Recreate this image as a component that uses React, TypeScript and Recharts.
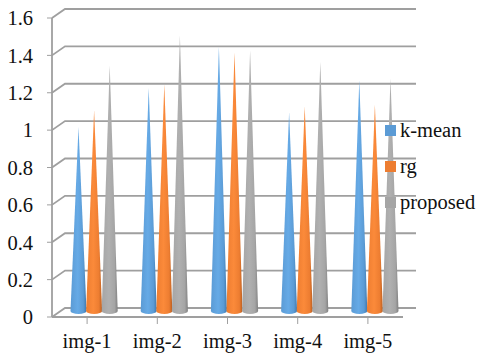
import React from 'react';
import { BarChart, Bar, XAxis, YAxis, CartesianGrid, Legend } from 'recharts';

const categories = ['img-1', 'img-2', 'img-3', 'img-4', 'img-5'];
const kMean = [1.0, 1.21, 1.43, 1.08, 1.25];
const rg = [1.09, 1.23, 1.4, 1.11, 1.12];
const proposed = [1.33, 1.49, 1.41, 1.35, 1.26];
const yTicks = [0, 0.2, 0.4, 0.6, 0.8, 1, 1.2, 1.4, 1.6];

const data = categories.map((name, i) => ({ name, kMean: kMean[i], rg: rg[i], proposed: proposed[i] }));

const font = '"Liberation Serif", serif';
const gridColor = '#9f9f9f';
const depthX = 13;
const depthY = 9;

const series = [
  { key: 'kMean', label: 'k-mean', color: '#5b9bd5', light: '#66aae6', dark: '#3f78ad' },
  { key: 'rg', label: 'rg', color: '#ed7d31', light: '#fb8a3a', dark: '#b85f22' },
  { key: 'proposed', label: 'proposed', color: '#a5a5a5', light: '#b0b0b0', dark: '#808080' },
];

// 3D wall line: goes back from the axis, then along the back wall
const GridLine = (props: any) => {
  const { x1, x2, y1 } = props;
  return (
    <path
      d={`M${x1},${y1} L${x1 + depthX},${y1 - depthY} L${x2 + depthX},${y1 - depthY}`}
      fill="none"
      stroke={gridColor}
      strokeWidth={1.8}
    />
  );
};

const Cone = (props: any) => {
  const { x, y, width, height, gradient } = props;
  const cx = x + width / 2 + 6.5;
  const base = y + height - 6;
  const tip = y - 3;
  const r = width / 2;
  return (
    <path
      d={`M${cx - r},${base} L${cx},${tip} L${cx + r},${base} A${r},3 0 0 1 ${cx - r},${base} Z`}
      fill={`url(#${gradient})`}
    />
  );
};

const LegendList = () => (
  <div style={{ fontFamily: font, fontSize: 20.5, color: '#111' }}>
    {series.map((s) => (
      <div key={s.key} style={{ display: 'flex', alignItems: 'center', height: 36 }}>
        <span style={{ width: 11, height: 11, background: s.color, marginRight: 4 }} />
        {s.label}
      </div>
    ))}
  </div>
);

export default function App() {
  return (
    <div style={{ position: 'absolute', left: 0, top: 0 }}>
      <BarChart
        width={480}
        height={357}
        data={data}
        margin={{ top: 18, right: 77, bottom: 0, left: 0 }}
        barSize={16}
        barGap={-0.4}
      >
        <defs>
          {series.map((s) => (
            <linearGradient key={s.key} id={`cone-${s.key}`} x1="0" y1="0" x2="1" y2="0">
              <stop offset="0%" stopColor={s.color} />
              <stop offset="45%" stopColor={s.light} />
              <stop offset="80%" stopColor={s.color} />
              <stop offset="100%" stopColor={s.dark} />
            </linearGradient>
          ))}
        </defs>
        <CartesianGrid horizontal={(p: any) => <GridLine key={p.y1} {...p} />} vertical={false} />
        <XAxis
          dataKey="name"
          height={40}
          tickSize={7}
          tickMargin={9}
          interval={0}
          axisLine={{ stroke: gridColor, strokeWidth: 1.8 }}
          tickLine={{ stroke: gridColor }}
          tick={{ fill: '#111', fontFamily: font, fontSize: 20.5 }}
        />
        <YAxis
          width={52}
          domain={[0, 1.6]}
          ticks={yTicks}
          interval={0}
          tickSize={5}
          tickMargin={14}
          axisLine={{ stroke: gridColor, strokeWidth: 1.8 }}
          tickLine={{ stroke: gridColor }}
          tick={{ fill: '#111', fontFamily: font, fontSize: 20.5 }}
        />
        {series.map((s) => (
          <Bar
            key={s.key}
            dataKey={s.key}
            name={s.label}
            isAnimationActive={false}
            shape={(p: any) => <Cone {...p} gradient={`cone-${s.key}`} />}
          />
        ))}
        <Legend
          layout="vertical"
          verticalAlign="middle"
          content={<LegendList />}
          wrapperStyle={{ left: 385, top: 112, width: 95 }}
        />
      </BarChart>
    </div>
  );
}
